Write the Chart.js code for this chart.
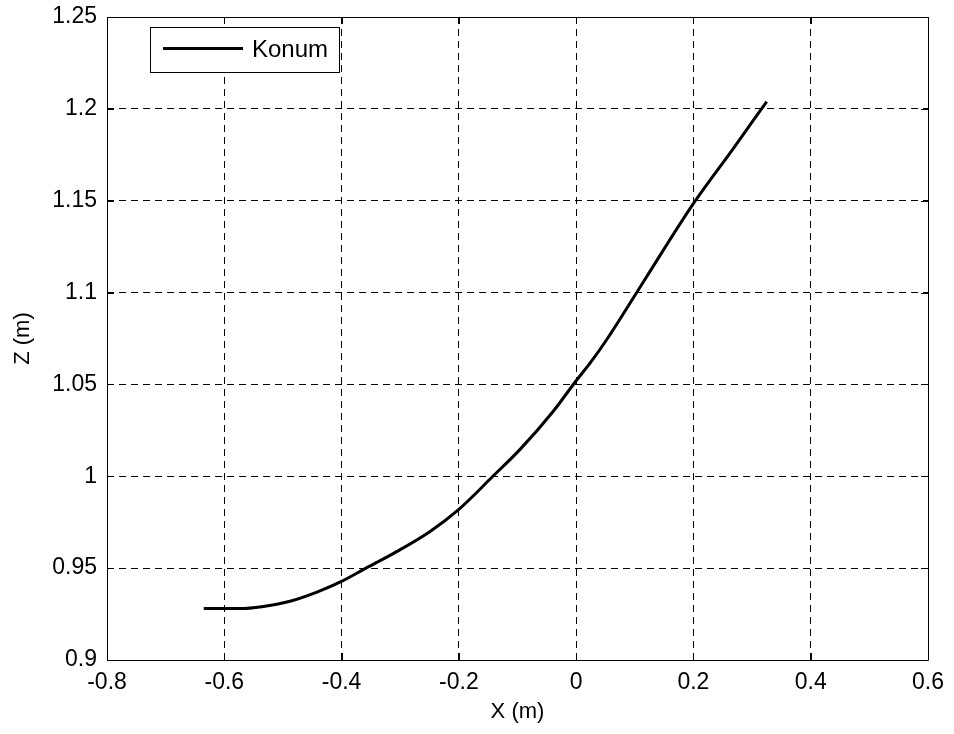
<!DOCTYPE html>
<html>
<head>
<meta charset="utf-8">
<script src="https://cdn.jsdelivr.net/npm/chart.js@4.4.1/dist/chart.umd.min.js"></script>
<style>
html,body{margin:0;padding:0;background:#fff;}
#wrap{width:954px;height:734px;}
</style>
</head>
<body>
<div id="wrap"><canvas id="c" width="954" height="734"></canvas></div>
<script>
const seriesLabel = "Konum";
const xValues = [-0.635, -0.573, -0.536, -0.488, -0.442, -0.4, -0.363, -0.306, -0.249, -0.2, -0.142, -0.096, -0.040, 0, 0.024, 0.052, 0.117, 0.199, 0.267, 0.325];
const zValues = [0.928, 0.928, 0.929, 0.932, 0.937, 0.9428, 0.9492, 0.959, 0.970, 0.982, 1.0, 1.0145, 1.035, 1.052, 1.0617, 1.0743, 1.107, 1.148, 1.178, 1.204];
const xTicks = [-0.8, -0.6, -0.4, -0.2, 0, 0.2, 0.4, 0.6];
const yTicks = [0.9, 0.95, 1, 1.05, 1.1, 1.15, 1.2, 1.25];
const xTitle = "X (m)";
const yTitle = "Z (m)";

const FONT = "'Liberation Sans', Arial, Helvetica, sans-serif";
const points = xValues.map((x, i) => ({x: x, y: zValues[i]}));
const fmt = v => String(Number(v.toFixed(2)));

const framePlugin = {
  id: 'frame',
  afterDraw(chart) {
    const {ctx, chartArea: a, scales} = chart;
    ctx.save();
    ctx.strokeStyle = '#000';
    ctx.lineWidth = 1;
    ctx.setLineDash([]);
    ctx.beginPath();
    ctx.rect(Math.round(a.left) + 0.5, Math.round(a.top) + 0.5, Math.round(a.right - a.left), Math.round(a.bottom - a.top));
    ctx.stroke();
    const tl = 7;
    ctx.beginPath();
    scales.x.ticks.forEach(t => {
      const px = Math.round(scales.x.getPixelForValue(t.value)) + 0.5;
      ctx.moveTo(px, a.bottom); ctx.lineTo(px, a.bottom - tl);
      ctx.moveTo(px, a.top); ctx.lineTo(px, a.top + tl);
    });
    scales.y.ticks.forEach(t => {
      const py = Math.round(scales.y.getPixelForValue(t.value)) + 0.5;
      ctx.moveTo(a.left, py); ctx.lineTo(a.left + tl, py);
      ctx.moveTo(a.right, py); ctx.lineTo(a.right - tl, py);
    });
    ctx.stroke();
    // legend box inside the axes
    const ds = chart.data.datasets[0];
    const bx = a.left + 43, by = a.top + 10, bw = 189, bh = 45;
    ctx.fillStyle = '#fff';
    ctx.fillRect(bx, by, bw, bh);
    ctx.strokeStyle = '#000';
    ctx.lineWidth = 1;
    ctx.strokeRect(bx + 0.5, by + 0.5, bw, bh);
    ctx.lineWidth = 3;
    ctx.beginPath();
    ctx.moveTo(bx + 13, by + 21.5);
    ctx.lineTo(bx + 93, by + 21.5);
    ctx.stroke();
    ctx.fillStyle = '#000';
    ctx.font = '24px ' + FONT;
    ctx.textBaseline = 'middle';
    ctx.textAlign = 'left';
    ctx.fillText(ds.label, bx + 102, by + 23);
    ctx.restore();
  }
};

new Chart(document.getElementById('c'), {
  type: 'scatter',
  data: {
    datasets: [{
      label: seriesLabel,
      data: points,
      showLine: true,
      borderColor: '#000',
      backgroundColor: '#000',
      borderWidth: 3,
      pointRadius: 0,
      cubicInterpolationMode: 'monotone',
      fill: false
    }]
  },
  options: {
    responsive: false,
    animation: false,
    devicePixelRatio: 1,
    layout: {padding: {top: 17, right: 26, left: 0, bottom: 0}},
    plugins: {legend: {display: false}, tooltip: {enabled: false}},
    scales: {
      x: {
        type: 'linear', min: -0.8, max: 0.6,
        afterBuildTicks: s => { s.ticks = xTicks.map(v => ({value: v})); },
        afterFit: s => { s.height = 74; s.paddingLeft = 0; s.paddingRight = 0; },
        ticks: {color: '#000', font: {family: FONT, size: 23}, padding: 9, callback: v => fmt(v), maxRotation: 0, autoSkip: false},
        grid: {color: '#000', lineWidth: 1, drawTicks: false},
        border: {display: false, dash: [7, 5]},
        title: {display: true, text: xTitle, color: '#000', font: {family: FONT, size: 22}, padding: {top: 0, bottom: 9}}
      },
      y: {
        type: 'linear', min: 0.9, max: 1.25,
        afterBuildTicks: s => { s.ticks = yTicks.map(v => ({value: v})); },
        afterFit: s => { s.width = 107; s.paddingTop = 0; s.paddingBottom = 0; },
        ticks: {color: '#000', font: {family: FONT, size: 23}, padding: 10, callback: v => fmt(v), autoSkip: false},
        grid: {color: '#000', lineWidth: 1, drawTicks: false},
        border: {display: false, dash: [7, 5]},
        title: {display: true, text: yTitle, color: '#000', font: {family: FONT, size: 22}, padding: {top: 10, bottom: 0}}
      }
    }
  },
  plugins: [framePlugin]
});
</script>
</body>
</html>
